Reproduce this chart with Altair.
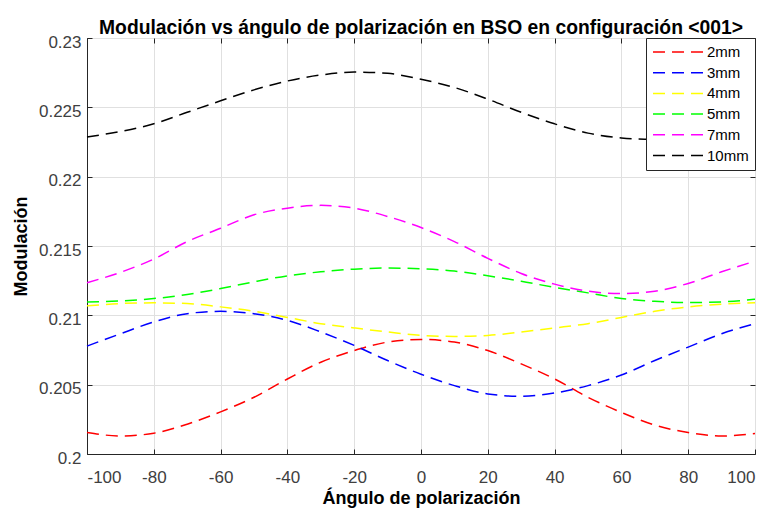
import altair as alt
import pandas as pd

angles = [-100, -90, -80, -70, -60, -50, -40, -30, -20, -10, 0,
          10, 20, 30, 40, 50, 60, 70, 80, 90, 100]
series = ["2mm", "3mm", "4mm", "5mm", "7mm", "10mm"]
colors = ["#ff0000", "#0000ff", "#ffff00", "#00ff00", "#ff00ff", "#000000"]

mod_2mm = [0.20155, 0.2013, 0.2015, 0.20215, 0.20304, 0.20409, 0.20541, 0.20662, 0.20746, 0.20807, 0.20826,
           0.20807, 0.20746, 0.2065, 0.20541, 0.20409, 0.203, 0.20208, 0.20155, 0.2013, 0.20148]
mod_3mm = [0.20778, 0.20867, 0.20952, 0.21012, 0.21029, 0.21012, 0.20964, 0.2088, 0.20783, 0.20674, 0.20575,
           0.20493, 0.20433, 0.20416, 0.2044, 0.20493, 0.2057, 0.20674, 0.20771, 0.20867, 0.2094]
mod_4mm = [0.21068, 0.21085, 0.2109, 0.21085, 0.21061, 0.21029, 0.20985, 0.2094, 0.20909, 0.2088, 0.20855,
           0.20848, 0.20855, 0.2088, 0.20909, 0.2094, 0.20985, 0.21029, 0.21061, 0.2108, 0.2109]
mod_5mm = [0.21097, 0.21104, 0.21121, 0.2115, 0.21193, 0.21242, 0.21285, 0.21314, 0.21333, 0.21341, 0.21336,
           0.21319, 0.21285, 0.21246, 0.21201, 0.21162, 0.21121, 0.21101, 0.21092, 0.21097, 0.21116]
mod_7mm = [0.21235, 0.2131, 0.21406, 0.21532, 0.21628, 0.21725, 0.21773, 0.21793, 0.21773, 0.21713, 0.21633,
           0.21532, 0.21411, 0.21302, 0.21225, 0.21174, 0.21157, 0.21174, 0.2123, 0.21314, 0.21391]
mod_10mm = [0.22286, 0.22326, 0.22381, 0.22464, 0.22547, 0.22626, 0.2269, 0.22733, 0.22754, 0.22745, 0.22702,
            0.22643, 0.22559, 0.22464, 0.22381, 0.22314, 0.22279, 0.22269, 0.2228, 0.2232, 0.2238]

x_ticks = [-100, -80, -60, -40, -20, 0, 20, 40, 60, 80, 100]
y_ticks = [0.2, 0.205, 0.21, 0.215, 0.22, 0.225, 0.23]

all_vals = [mod_2mm, mod_3mm, mod_4mm, mod_5mm, mod_7mm, mod_10mm]
rows = []
for name, vals in zip(series, all_vals):
    for a, v in zip(angles, vals):
        rows.append({"angulo": a, "mod": v, "serie": name})
df = pd.DataFrame(rows)

FONT = "Liberation Sans"
W, H = 668, 416
xscale = alt.Scale(domain=[-100, 100], nice=False, zero=False)
yscale = alt.Scale(domain=[0.2, 0.23], nice=False, zero=False)


def tick_axis(values, orient, offset):
    return alt.Axis(values=values, orient=orient, offset=offset, labels=False,
                    grid=False, domain=False, ticks=True, tickSize=5, tickWidth=1,
                    tickColor="#262626", title=None)


main = alt.Chart(df).mark_line(
    strokeDash=[12, 7], strokeWidth=1.5, interpolate="monotone"
).encode(
    x=alt.X("angulo:Q", scale=xscale,
            axis=alt.Axis(values=x_ticks, orient="bottom", title="Ángulo de polarización",
                          labelExpr="toString(datum.value)",
                          labelPadding=15, titlePadding=4, tickSize=0)),
    y=alt.Y("mod:Q", scale=yscale,
            axis=alt.Axis(values=y_ticks, orient="left", format="~g", title="Modulación",
                          labelPadding=6, labelOffset=4, titlePadding=8, tickSize=0)),
    color=alt.Color("serie:N",
                    scale=alt.Scale(domain=series, range=colors),
                    sort=series,
                    legend=alt.Legend(title=None, orient="top-right", offset=0,
                                      symbolType="stroke", symbolSize=2500,
                                      symbolStrokeWidth=1.5, symbolDash=[12, 7],
                                      labelFontSize=15, labelFont=FONT, labelColor="#000000",
                                      labelOffset=3, fillColor="#ffffff",
                                      strokeColor="#262626", padding=6,
                                      clipHeight=16, rowPadding=4.7, zindex=1)),
    detail="serie:N",
)

ticks_a = alt.Chart(df).mark_line(opacity=0).encode(
    x=alt.X("angulo:Q", scale=xscale, axis=tick_axis(x_ticks, "top", -H)),
    y=alt.Y("mod:Q", scale=yscale, axis=tick_axis(y_ticks, "right", -W)),
    detail="serie:N",
)
ticks_b = alt.Chart(df).mark_line(opacity=0).encode(
    x=alt.X("angulo:Q", scale=xscale, axis=tick_axis(x_ticks, "bottom", -H)),
    y=alt.Y("mod:Q", scale=yscale, axis=tick_axis(y_ticks, "left", -W)),
    detail="serie:N",
)

chart = alt.layer(main, ticks_a, ticks_b).resolve_axis(
    x="independent", y="independent"
).properties(
    width=W, height=H,
    background="#ffffff",
    title=alt.Title("Modulación vs ángulo de polarización en BSO en configuración <001>",
                    font=FONT, fontSize=19.3, fontWeight="bold", color="#000000",
                    anchor="middle", frame="group", offset=6, dy=11),
    autosize=alt.AutoSizeParams(type="none"),
    padding={"left": 79, "top": 30, "right": 6, "bottom": 62},
).configure_axis(
    labelFont=FONT, labelFontSize=17, labelColor="#404040",
    titleFont=FONT, titleFontSize=18, titleFontWeight="bold", titleColor="#000000",
    domainColor="#262626", domainWidth=1,
    gridColor="#e0e0e0", gridWidth=1,
).configure_view(
    stroke="#262626", strokeWidth=1,
)

chart.save("out.html", embed_options={"renderer": "svg", "actions": False})
